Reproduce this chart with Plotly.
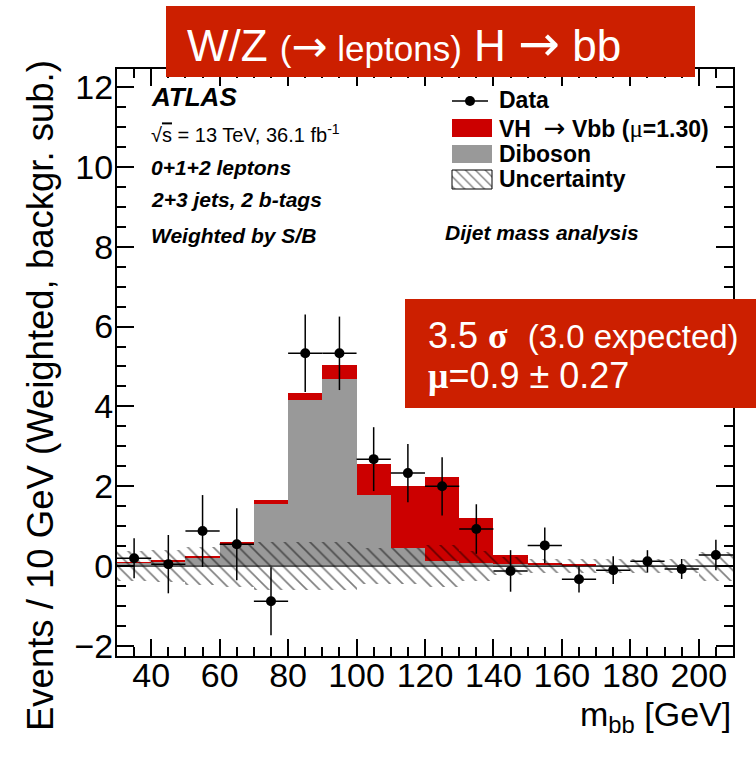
import plotly.graph_objects as go

# m_bb bins (10 GeV wide), 30-210 GeV
bin_centers = [35, 45, 55, 65, 75, 85, 95, 105, 115, 125, 135, 145, 155, 165, 175, 185, 195, 205]
bin_width = 10

data_vals = [0.20, 0.05, 0.88, 0.55, -0.88, 5.33, 5.33, 2.68, 2.33, 2.00, 0.93, -0.12, 0.52, -0.33, -0.10, 0.12, -0.07, 0.28]
data_errs = [0.50, 0.73, 0.90, 0.90, 0.85, 0.97, 0.92, 0.80, 0.73, 0.73, 0.62, 0.52, 0.45, 0.33, 0.35, 0.28, 0.25, 0.38]
diboson = [0.08, 0.12, 0.21, 0.54, 1.55, 4.15, 4.68, 1.78, 0.45, 0.12, 0.09, 0.05, 0.03, 0.02, 0.01, 0.01, 0.01, 0.01]
vh = [0.02, 0.03, 0.04, 0.06, 0.10, 0.18, 0.37, 0.78, 1.56, 2.12, 1.11, 0.24, 0.05, 0.01, 0.00, 0.00, 0.00, 0.00]
uncert = [0.38, 0.40, 0.48, 0.52, 0.60, 0.60, 0.60, 0.45, 0.45, 0.53, 0.38, 0.23, 0.18, 0.17, 0.17, 0.17, 0.17, 0.36]

W, H = 756, 759
L, R, T, B = 117, 733, 69, 656   # plot frame in pixels

RED = '#CC0000'
GREY = '#999999'
BANNER = '#CC1F00'
FONT = 'Liberation Sans'


def px(x):
    return (x - L) / (R - L)


def py(y):
    return (B - y) / (B - T)


fig = go.Figure()

fig.add_trace(go.Bar(x=bin_centers, y=diboson, width=bin_width,
                     marker=dict(color=GREY, line=dict(width=0)), name='Diboson'))
fig.add_trace(go.Bar(x=bin_centers, y=vh, base=diboson, width=bin_width,
                     marker=dict(color=RED, line=dict(width=0)), name='VH'))
fig.add_trace(go.Bar(x=bin_centers, y=[2 * u for u in uncert], base=[-u for u in uncert],
                     width=bin_width, name='Uncertainty',
                     marker=dict(color='rgba(0,0,0,0)', line=dict(width=0),
                                 pattern=dict(shape='\\', fgcolor='black',
                                              bgcolor='rgba(0,0,0,0)', size=9, solidity=0.18))))
fig.add_trace(go.Scatter(x=bin_centers, y=data_vals, mode='markers', name='Data',
                         marker=dict(color='black', size=10),
                         error_y=dict(type='data', array=data_errs, width=0, thickness=1.5, color='black'),
                         error_x=dict(type='constant', value=bin_width / 2, width=0, thickness=1.5, color='black')))

# legend keys, drawn on a pixel-space overlay axis
fig.add_trace(go.Scatter(x=[452, 488], y=[101, 101], xaxis='x2', yaxis='y2', mode='lines',
                         line=dict(color='black', width=1.5), hoverinfo='skip'))
fig.add_trace(go.Scatter(x=[470], y=[101], xaxis='x2', yaxis='y2', mode='markers',
                         marker=dict(color='black', size=10), hoverinfo='skip'))
fig.add_trace(go.Scatter(x=[452, 492, 492, 452, 452], y=[170, 170, 189, 189, 170],
                         xaxis='x2', yaxis='y2', mode='lines', fill='toself',
                         fillcolor='white', line=dict(color='black', width=1),
                         fillpattern=dict(shape='\\', fgcolor='black', bgcolor='white',
                                          size=7, solidity=0.2),
                         hoverinfo='skip'))

shapes = [
    dict(type='rect', x0=px(452), x1=px(492), y0=py(119), y1=py(137), fillcolor=RED, line=dict(width=0)),
    dict(type='rect', x0=px(452), x1=px(492), y0=py(145), y1=py(163), fillcolor=GREY, line=dict(width=0)),
    # banners
    dict(type='rect', x0=px(166), x1=px(695), y0=py(6), y1=py(77), fillcolor=BANNER, line=dict(width=0)),
    dict(type='rect', x0=px(405), x1=px(760), y0=py(299), y1=py(408), fillcolor=BANNER, line=dict(width=0)),
]
for s in shapes:
    s.update(xref='paper', yref='paper', layer='above')
fig.update_layout(shapes=shapes)

# zero line across the frame
fig.add_hline(y=0, line=dict(color='black', width=1), layer='above')

serif = "font-family:Liberation Serif"


def arrow(size, weight='normal'):
    return f'<span style="font-family:DejaVu Sans;font-size:{size}px;font-weight:{weight}">→</span>'


annos = [
    (149, 97, '<b><i>ATLAS</i></b>', 26),
    (149, 133, '√<span style="text-decoration:overline">s</span> = 13 TeV, 36.1 fb<sup>-1</sup>', 20),
    (149, 167, '<b><i>0+1+2 leptons</i></b>', 21),
    (149, 200, '<b><i>2+3 jets, 2 b-tags</i></b>', 21),
    (149, 235, '<b><i>Weighted by S/B</i></b>', 21),
    (443, 232, '<b><i>Dijet mass analysis</i></b>', 21),
    (497, 100, '<b>Data</b>', 23),
    (497, 128, f'<b>VH  </b>{arrow(26)}<b> Vbb (</b><span style="{serif};font-size:25px">μ</span><b>=1.30)</b>', 23),
    (497, 154, '<b>Diboson</b>', 23),
    (497, 179, '<b>Uncertainty</b>', 23),
]
ann_list = []
for x, y, txt, size in annos:
    ann_list.append(dict(x=px(x), y=py(y), xref='paper', yref='paper', text=txt, showarrow=False,
                         xanchor='left', yanchor='middle', font=dict(size=size, color='black')))

ann_list += [
    dict(x=px(185), y=py(44), xref='paper', yref='paper', showarrow=False, xanchor='left', yanchor='middle',
         text=f'W/Z <span style="font-size:35px">({arrow(43)} leptons)</span> H {arrow(50)} bb',
         font=dict(size=44, color='white')),
    dict(x=px(426), y=py(335), xref='paper', yref='paper', showarrow=False, xanchor='left', yanchor='middle',
         text=f'3.5 <b><span style="{serif}">σ</span></b>  <span style="font-size:33px">(3.0 expected)</span>',
         font=dict(size=36, color='white')),
    dict(x=px(426), y=py(375), xref='paper', yref='paper', showarrow=False, xanchor='left', yanchor='middle',
         text=f'<b><span style="{serif}">μ</span></b>=0.9 ± 0.27',
         font=dict(size=36, color='white')),
    dict(x=px(40), y=py(396), xref='paper', yref='paper', showarrow=False, textangle=-90,
         xanchor='center', yanchor='middle', text='Events / 10 GeV (Weighted, backgr. sub.)',
         font=dict(size=36.5, color='black')),
    dict(x=px(733), y=py(716), xref='paper', yref='paper', showarrow=False, xanchor='right', yanchor='middle',
         text='m<sub>bb</sub> [GeV]', font=dict(size=34, color='black')),
]
fig.update_layout(annotations=ann_list)

axis_common = dict(showgrid=False, zeroline=False, showline=True, linecolor='black', linewidth=2,
                   mirror='ticks', ticks='inside', tickcolor='black', tickwidth=1.5, ticklen=17,
                   automargin=False, tickfont=dict(size=34, color='black', family=FONT))

fig.update_layout(
    width=W, height=H,
    margin=dict(l=L, r=W - R, t=T, b=H - B),
    paper_bgcolor='white', plot_bgcolor='white',
    font=dict(family=FONT, color='black'),
    barmode='overlay', bargap=0,
    showlegend=False,
    xaxis=dict(range=[30, 210], tickvals=[40, 60, 80, 100, 120, 140, 160, 180, 200],
               ticklabelstandoff=-12,
               minor=dict(ticks='inside', dtick=5, tick0=30, ticklen=9, tickcolor='black', tickwidth=1.5),
               **axis_common),
    yaxis=dict(range=[-2.25, 12.45], tickvals=[-2, 0, 2, 4, 6, 8, 10, 12],
               ticktext=['−2', '0', '2', '4', '6', '8', '10', '12'],
               ticklabelstandoff=-5,
               minor=dict(ticks='inside', dtick=0.5, tick0=0, ticklen=9, tickcolor='black', tickwidth=1.5),
               **axis_common),
    xaxis2=dict(overlaying='x', range=[L, R], visible=False, automargin=False),
    yaxis2=dict(overlaying='y', range=[B, T], visible=False, automargin=False),
)

# drop the browser's default 8px body margin so the figure sits at the page origin
fig.write_html("out.html", config={'displayModeBar': False},
               post_script="document.body.style.margin='0';")
